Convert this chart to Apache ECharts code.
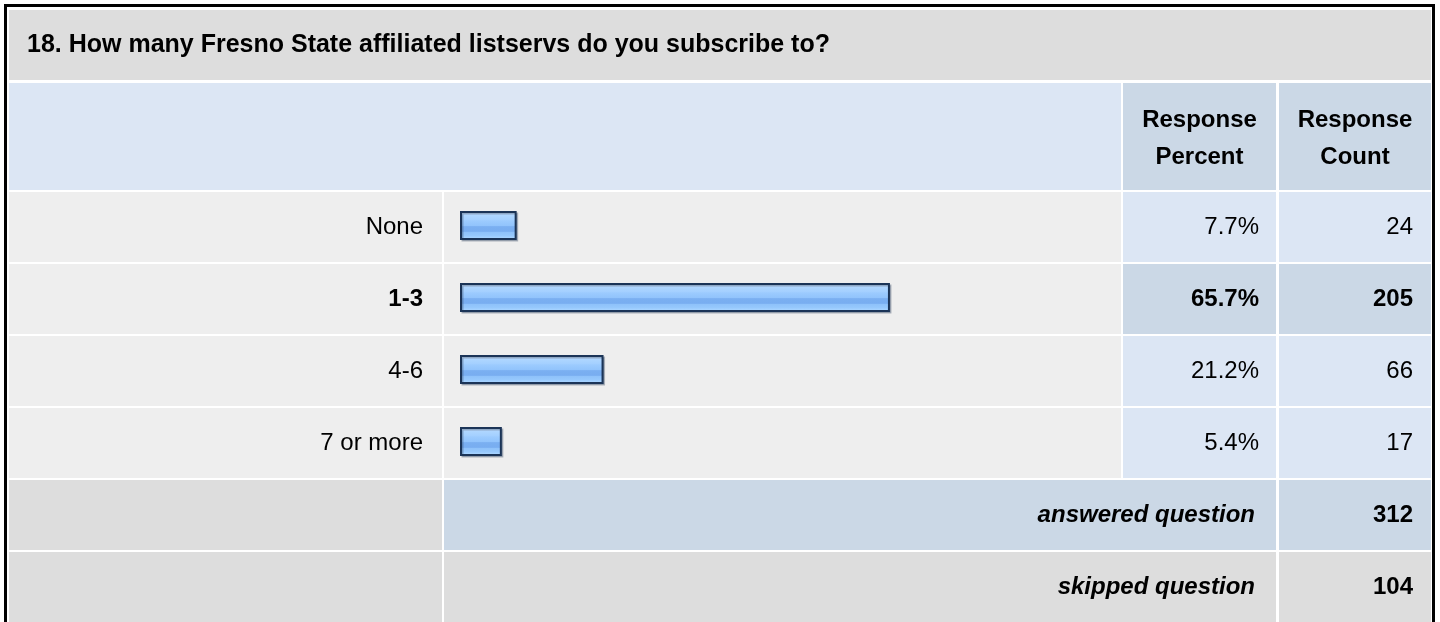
<!DOCTYPE html>
<html>
<head>
<meta charset="utf-8">
<script src="https://cdn.jsdelivr.net/npm/echarts@6/dist/echarts.min.js"></script>
<style>
  html, body { margin: 0; padding: 0; background: #ffffff; }
  #chart { width: 1440px; height: 622px; }
</style>
</head>
<body>
<div id="chart"></div>
<script>
// ---------- data ----------
const questionTitle = '18. How many Fresno State affiliated listservs do you subscribe to?';
const headerPercent = 'Response\nPercent';
const headerCount = 'Response\nCount';
const categories = ['None', '1-3', '4-6', '7 or more'];
const percents = [7.7, 65.7, 21.2, 5.4];
const counts = [24, 205, 66, 17];
const highlightedRow = 1;
const summaryLabels = ['answered question', 'skipped question'];
const summaryCounts = [312, 104];

// ---------- layout / style ----------
const FONT = "'Liberation Sans', Arial, Helvetica, sans-serif";
const FS = 24;
const TITLE_FS = 25;
const X_IN_L = 9, X_IN_R = 1431;
const COL_LABEL = [9, 442];
const COL_BAR = [444, 1121];
const COL_PCT = [1123, 1276];
const COL_CNT = [1279, 1431];
const ROW0 = 192, ROW_PITCH = 72, ROW_H = 70;
const C_GRAY = '#dddddd', C_LIGHT = '#eeeeee', C_BLUE = '#dce6f4', C_BLUE2 = '#cbd8e6';
const BAR_PAD = 5.1;

const g = [];
function cell(x0, x1, y0, y1, fill) {
  g.push({ type: 'rect', z: 0, silent: true, shape: { x: x0, y: y0, width: x1 - x0, height: y1 - y0 }, style: { fill: fill } });
}
function txt(x, y, text, align, opts) {
  opts = opts || {};
  g.push({
    type: 'text', z: 5, silent: true, x: x, y: y,
    style: {
      text: text, align: align, verticalAlign: 'middle',
      font: (opts.italic ? 'italic ' : '') + (opts.bold ? 'bold ' : '') + (opts.size || FS) + 'px ' + FONT,
      fill: '#000000', lineHeight: opts.lh || FS
    }
  });
}

// outer frame
g.push({ type: 'rect', z: 1, silent: true, shape: { x: 5.5, y: 5.5, width: 1428, height: 700 }, style: { fill: null, stroke: '#000000', lineWidth: 3 } });

// title row
cell(X_IN_L, X_IN_R, 10, 80, C_GRAY);
txt(27, 45, questionTitle, 'left', { bold: true, size: TITLE_FS });

// header row
cell(X_IN_L, COL_BAR[1], 83, 190, C_BLUE);
cell(COL_PCT[0], COL_PCT[1], 83, 190, C_BLUE2);
cell(COL_CNT[0], COL_CNT[1], 83, 190, C_BLUE2);
txt((COL_PCT[0] + COL_PCT[1]) / 2, 139, headerPercent, 'center', { bold: true, lh: 37 });
txt((COL_CNT[0] + COL_CNT[1]) / 2, 139, headerCount, 'center', { bold: true, lh: 37 });

// data rows
categories.forEach(function (c, i) {
  const y0 = ROW0 + i * ROW_PITCH, y1 = y0 + ROW_H, cy = y0 + ROW_H / 2;
  const hl = i === highlightedRow;
  cell(COL_LABEL[0], COL_LABEL[1], y0, y1, C_LIGHT);
  cell(COL_BAR[0], COL_BAR[1], y0, y1, C_LIGHT);
  cell(COL_PCT[0], COL_PCT[1], y0, y1, hl ? C_BLUE2 : C_BLUE);
  cell(COL_CNT[0], COL_CNT[1], y0, y1, hl ? C_BLUE2 : C_BLUE);
  txt(COL_LABEL[1] - 19, cy, c, 'right', { bold: hl });
  txt(COL_PCT[1] - 17, cy, percents[i].toFixed(1) + '%', 'right', { bold: hl });
  txt(COL_CNT[1] - 18, cy, String(counts[i]), 'right', { bold: hl });
});

// summary rows
summaryLabels.forEach(function (s, j) {
  const i = categories.length + j;
  const y0 = ROW0 + i * ROW_PITCH, y1 = y0 + ROW_H, cy = y0 + ROW_H / 2;
  cell(COL_LABEL[0], COL_LABEL[1], y0, y1, C_GRAY);
  cell(COL_BAR[0], COL_PCT[1], y0, y1, j === 0 ? C_BLUE2 : C_GRAY);
  cell(COL_CNT[0], COL_CNT[1], y0, y1, j === 0 ? C_BLUE2 : C_GRAY);
  txt(COL_PCT[1] - 21, cy, s, 'right', { bold: true, italic: true });
  txt(COL_CNT[1] - 18, cy, String(summaryCounts[j]), 'right', { bold: true });
});

const barFill = new echarts.graphic.LinearGradient(0, 0, 0, 1, [
  { offset: 0.00, color: '#cfe6ff' },
  { offset: 0.10, color: '#c2dfff' },
  { offset: 0.14, color: '#afd6ff' },
  { offset: 0.30, color: '#a4d0ff' },
  { offset: 0.34, color: '#9ccbfe' },
  { offset: 0.50, color: '#92c4fc' },
  { offset: 0.54, color: '#7aaff1' },
  { offset: 0.70, color: '#78adf0' },
  { offset: 0.74, color: '#8fc2fa' },
  { offset: 0.86, color: '#97c9fd' },
  { offset: 0.90, color: '#a3d1ff' },
  { offset: 1.00, color: '#a9d4ff' }
]);

const chart = echarts.init(document.getElementById('chart'), null, { renderer: 'canvas' });
chart.setOption({
  animation: false,
  backgroundColor: '#ffffff',
  grid: { left: 461, top: 189.5, width: 643.6, height: 288, containLabel: false },
  xAxis: { type: 'value', min: 0, max: 100, show: false },
  yAxis: { type: 'category', data: categories, inverse: true, show: false },
  graphic: g,
  series: [{
    type: 'custom',
    z: 10,
    data: percents.map(function (v, i) { return [v, i]; }),
    encode: { x: 0, y: 1 },
    renderItem: function (params, api) {
      const start = api.coord([0, api.value(1)]);
      const end = api.coord([api.value(0), api.value(1)]);
      const bh = 27;
      return {
        type: 'rect',
        shape: { x: start[0], y: start[1] - bh / 2, width: end[0] - start[0] + BAR_PAD, height: bh },
        style: {
          fill: barFill, stroke: '#1b3457', lineWidth: 2,
          shadowColor: 'rgba(40,60,90,0.35)', shadowOffsetX: 1.5, shadowOffsetY: 1.5, shadowBlur: 0
        }
      };
    }
  }]
});
</script>
</body>
</html>
